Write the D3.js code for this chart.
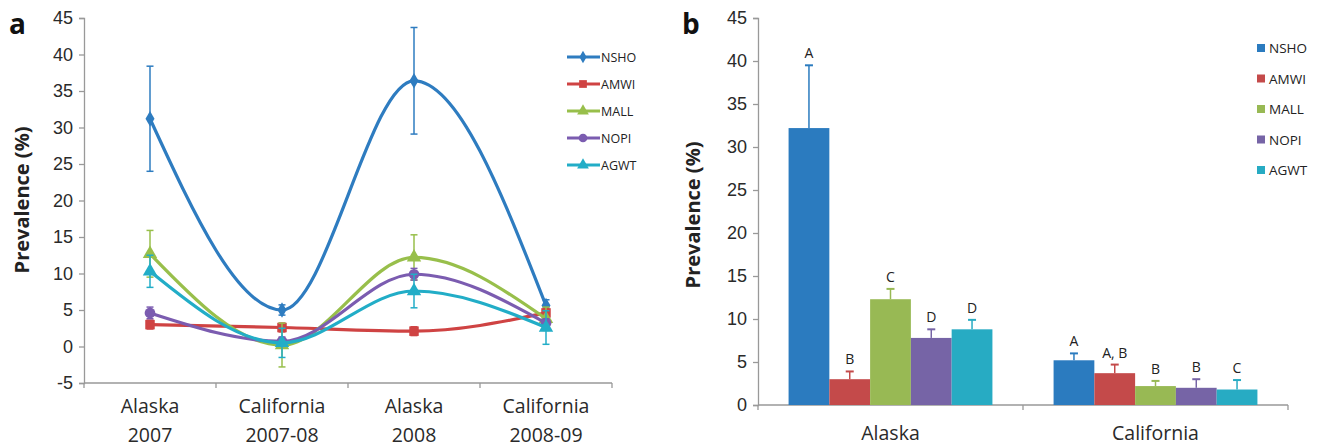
<!DOCTYPE html>
<html>
<head>
<meta charset="utf-8">
<script src="https://cdn.jsdelivr.net/npm/d3@7"></script>
<style>
  body { margin: 0; background: #fff; }
  svg { font-family: "Open Sans", sans-serif; }
  .axis path, .axis line { stroke: #999; stroke-width: 1.3; }
  .axis text { fill: #2a2a2a; }
</style>
</head>
<body>
<svg width="1321" height="447"></svg>
<script>
// Panel a: prevalence by season
const seasons = ["Alaska|2007", "California|2007-08", "Alaska|2008", "California|2008-09"];
const species = ["NSHO", "AMWI", "MALL", "NOPI", "AGWT"];
const colors = ["#2e7cc0", "#cf4343", "#98bf4b", "#7b5cb0", "#22adc7"];
const barColors = ["#2b7bbf", "#c44a4a", "#98b954", "#7664a6", "#27abc3"];
const markers = [d3.symbolDiamond, d3.symbolSquare, d3.symbolTriangle, d3.symbolCircle, d3.symbolTriangle];

const lineValues = [
  [31.2, 5.0, 36.4, 5.6],
  [3.0, 2.6, 2.1, 4.6],
  [12.7, 0.2, 12.2, 3.8],
  [4.6, 0.7, 9.9, 3.2],
  [10.3, 0.5, 7.6, 2.6]
];
const lineErrors = [
  [7.2, 0.7, 7.3, 0.8],
  [0.6, 0.6, 0.6, 0.6],
  [3.2, 3.0, 3.1, 1.6],
  [0.8, 0.6, 0.8, 0.6],
  [2.2, 2.0, 2.3, 2.3]
];

// Panel b: prevalence by region
const regions = ["Alaska", "California"];
const barValues = [
  [32.2, 5.2],
  [3.0, 3.7],
  [12.3, 2.2],
  [7.8, 2.0],
  [8.8, 1.8]
];
const barErrors = [
  [7.3, 0.8],
  [0.9, 1.0],
  [1.2, 0.6],
  [1.0, 1.0],
  [1.1, 1.1]
];
const barLetters = [
  ["A", "A"],
  ["B", "A, B"],
  ["C", "B"],
  ["D", "B"],
  ["D", "C"]
];

const svg = d3.select("svg");
const fmt = d => String(d);  // plain hyphen for negatives, like the original

// ---------- panel a ----------
const xa = d3.scaleBand().domain(seasons).range([84, 612]);
const ya = d3.scaleLinear().domain([-5, 45]).range([383, 18]);

svg.append("g").attr("class", "axis")
  .attr("transform", "translate(84,0)")
  .call(d3.axisLeft(ya).tickValues(d3.range(-5, 46, 5)).tickFormat(fmt).tickSize(5).tickPadding(6))
  .call(g => g.selectAll("text").attr("font-size", 18));

const xAxisA = svg.append("g").attr("class", "axis")
  .attr("transform", "translate(0,383)");
xAxisA.append("line").attr("x1", 84).attr("x2", 612);
xAxisA.selectAll(".tk").data([...seasons.map(s => xa(s)), 612]).enter().append("line")
  .attr("x1", d => d).attr("x2", d => d).attr("y1", 0).attr("y2", 5);
seasons.forEach(s => {
  const [a, b] = s.split("|");
  const mx = xa(s) + xa.bandwidth() / 2;
  const t = xAxisA.append("text").attr("text-anchor", "middle").attr("font-size", 19.5);
  t.append("tspan").attr("x", mx).attr("y", 30).text(a);
  t.append("tspan").attr("x", mx).attr("y", 59).text(b);
});

const cx = s => xa(s) + xa.bandwidth() / 2;
const line = d3.line().x((d, i) => cx(seasons[i])).y(d => ya(d)).curve(d3.curveMonotoneX);

species.forEach((sp, k) => {
  const g = svg.append("g");
  g.append("path").datum(lineValues[k]).attr("d", line)
    .attr("fill", "none").attr("stroke", colors[k]).attr("stroke-width", 3.2);
  lineValues[k].forEach((v, i) => {
    const x = cx(seasons[i]), e = lineErrors[k][i];
    g.append("line").attr("x1", x).attr("x2", x).attr("y1", ya(v - e)).attr("y2", ya(v + e))
      .attr("stroke", colors[k]).attr("stroke-width", 1.5);
    [v - e, v + e].forEach(w => g.append("line").attr("x1", x - 3.5).attr("x2", x + 3.5)
      .attr("y1", ya(w)).attr("y2", ya(w)).attr("stroke", colors[k]).attr("stroke-width", 1.5));
    g.append("path").attr("d", d3.symbol(markers[k], k === 0 ? 70 : 90)())
      .attr("transform", `translate(${x},${ya(v)})`).attr("fill", colors[k]);
  });
});

// legend a
species.forEach((sp, k) => {
  const y = 57 + k * 27;
  svg.append("line").attr("x1", 567).attr("x2", 600).attr("y1", y).attr("y2", y)
    .attr("stroke", colors[k]).attr("stroke-width", 3);
  svg.append("path").attr("d", d3.symbol(markers[k], k === 0 ? 45 : 60)())
    .attr("transform", `translate(583,${y})`).attr("fill", colors[k]);
  svg.append("text").attr("x", 601).attr("y", y + 4.5).attr("font-size", 12.5)
    .attr("fill", "#222").text(sp);
});

svg.append("text").attr("transform", "translate(29,200) rotate(-90)")
  .attr("text-anchor", "middle").attr("font-size", 20).attr("font-weight", "bold")
  .attr("fill", "#222").text("Prevalence (%)");
svg.append("text").attr("x", 9).attr("y", 34).attr("font-size", 28)
  .attr("font-weight", "bold").attr("fill", "#111").text("a");

// ---------- panel b ----------
const xb = d3.scaleBand().domain(regions).range([758, 1288]);
const xs = d3.scaleBand().domain(species).range([0, xb.bandwidth()]).paddingOuter(0.75).paddingInner(0);
const yb = d3.scaleLinear().domain([0, 45]).range([405, 18]);

svg.append("g").attr("class", "axis")
  .attr("transform", "translate(758,0)")
  .call(d3.axisLeft(yb).tickValues(d3.range(0, 46, 5)).tickFormat(fmt).tickSize(5).tickPadding(6))
  .call(g => g.selectAll("text").attr("font-size", 18));

const xAxisB = svg.append("g").attr("class", "axis").attr("transform", "translate(0,405)");
xAxisB.append("line").attr("x1", 758).attr("x2", 1288);
xAxisB.selectAll(".tk").data([...regions.map(r => xb(r)), 1288]).enter().append("line")
  .attr("x1", d => d).attr("x2", d => d).attr("y1", 0).attr("y2", 5);
regions.forEach(r => {
  xAxisB.append("text").attr("x", xb(r) + xb.bandwidth() / 2).attr("y", 35)
    .attr("text-anchor", "middle").attr("font-size", 19.5).text(r);
});

species.forEach((sp, k) => {
  regions.forEach((r, i) => {
    const v = barValues[k][i], e = barErrors[k][i];
    const x = xb(r) + xs(sp), w = xs.bandwidth(), mx = x + w / 2;
    svg.append("rect").attr("x", x).attr("y", yb(v)).attr("width", w)
      .attr("height", yb(0) - yb(v)).attr("fill", barColors[k]);
    svg.append("line").attr("x1", mx).attr("x2", mx).attr("y1", yb(v)).attr("y2", yb(v + e))
      .attr("stroke", barColors[k]).attr("stroke-width", 1.5);
    svg.append("line").attr("x1", mx - 4).attr("x2", mx + 4).attr("y1", yb(v + e)).attr("y2", yb(v + e))
      .attr("stroke", barColors[k]).attr("stroke-width", 2);
    svg.append("text").attr("x", mx).attr("y", yb(v + e) - 7).attr("text-anchor", "middle")
      .attr("font-size", 14).attr("fill", "#222").text(barLetters[k][i]);
  });
});

// legend b
species.forEach((sp, k) => {
  const y = 48 + k * 30.5;
  svg.append("rect").attr("x", 1257).attr("y", y - 4).attr("width", 8).attr("height", 8)
    .attr("fill", barColors[k]);
  svg.append("text").attr("x", 1269).attr("y", y + 5).attr("font-size", 13.5)
    .attr("fill", "#222").text(sp);
});

svg.append("text").attr("transform", "translate(700,215) rotate(-90)")
  .attr("text-anchor", "middle").attr("font-size", 20).attr("font-weight", "bold")
  .attr("fill", "#222").text("Prevalence (%)");
svg.append("text").attr("x", 682).attr("y", 34).attr("font-size", 28)
  .attr("font-weight", "bold").attr("fill", "#111").text("b");
</script>
</body>
</html>
